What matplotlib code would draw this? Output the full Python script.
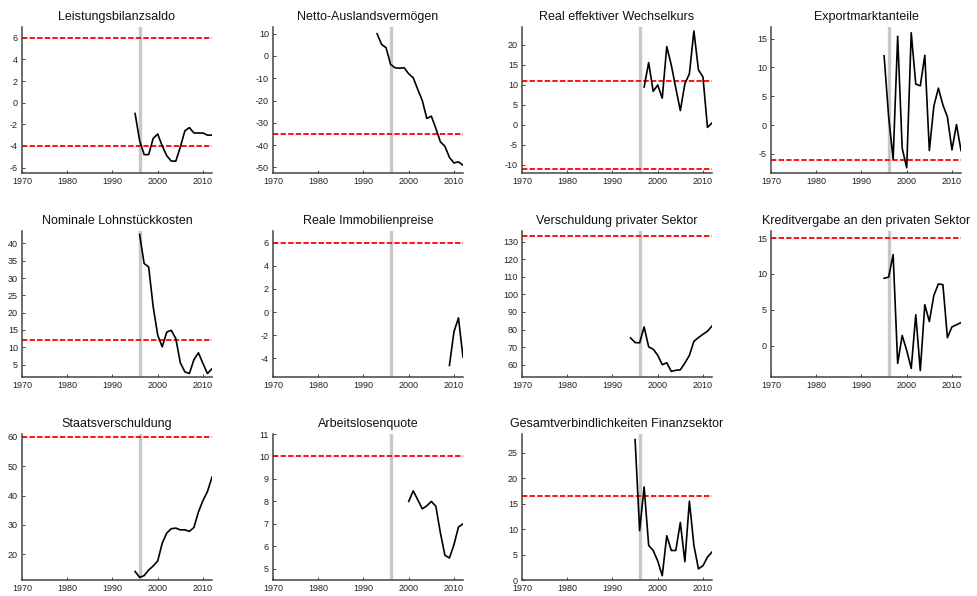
import matplotlib
matplotlib.use('Agg')
import matplotlib.pyplot as plt

plt.rcParams['font.family'] = ['Liberation Sans', 'DejaVu Sans']
plt.rcParams['axes.unicode_minus'] = False

titles = [
    'Leistungsbilanzsaldo', 'Netto-Auslandsvermögen', 'Real effektiver Wechselkurs', 'Exportmarktanteile',
    'Nominale Lohnstückkosten', 'Reale Immobilienpreise', 'Verschuldung privater Sektor',
    'Kreditvergabe an den privaten Sektor',
    'Staatsverschuldung', 'Arbeitslosenquote', 'Gesamtverbindlichkeiten Finanzsektor',
]

start_years = [1995, 1993, 1997, 1995, 1996, 2009, 1994, 1995, 1995, 2000, 1995]

values = [
    [-1.0, -3.5, -4.8, -4.8, -3.3, -2.9, -4.0, -4.9, -5.4, -5.4, -4.1, -2.6, -2.3, -2.8, -2.8, -2.8, -3.0, -3.0],
    [10.0, 5.2, 3.7, -3.8, -5.3, -5.5, -5.3, -8.0, -9.8, -15.0, -20.0, -28.0, -27.0, -32.5, -38.5, -40.5,
     -45.5, -48.0, -47.5, -49.0],
    [9.5, 15.6, 8.4, 10.0, 6.7, 19.6, 15.0, 9.2, 3.6, 10.3, 12.8, 23.5, 13.8, 12.0, -0.6, 0.5],
    [12.0, 1.5, -5.9, 15.4, -4.0, -7.4, 16.0, 7.1, 6.8, 12.1, -4.4, 3.3, 6.4, 3.5, 1.4, -4.3, 0.1, -4.4],
    [42.6, 34.2, 33.2, 21.7, 13.5, 10.1, 14.4, 14.9, 12.5, 5.5, 2.9, 2.4, 6.4, 8.4, 5.3, 2.4, 3.8],
    [-4.6, -1.7, -0.5, -3.9],
    [75.2, 72.6, 72.4, 81.5, 70.1, 68.8, 65.4, 60.0, 61.1, 56.2, 56.8, 57.1, 60.9, 65.3, 73.3, 75.4, 77.3,
     79.0, 82.0],
    [9.4, 9.55, 12.7, -2.5, 1.4, -0.7, -3.2, 4.3, -3.5, 5.7, 3.35, 7.0, 8.6, 8.5, 1.1, 2.6, 2.9, 3.2],
    [14.1, 12.1, 12.7, 14.6, 16.0, 17.7, 23.8, 27.2, 28.7, 28.9, 28.3, 28.3, 27.8, 29.1, 34.4, 38.3, 41.4, 46.3],
    [8.0, 8.47, 8.07, 7.67, 7.8, 8.0, 7.78, 6.6, 5.6, 5.48, 6.07, 6.86, 7.0],
    [27.6, 9.7, 18.3, 6.8, 5.8, 3.75, 0.85, 8.7, 5.8, 5.8, 11.3, 3.6, 15.5, 6.8, 2.2, 2.8, 4.5, 5.5],
]

thresholds = [[6, -4], [-35], [11, -11], [-6], [12], [6], [133], [15], [60], [10], [16.5]]

y_limits = [(-6.5, 7), (-52.5, 13), (-12, 24.5), (-8.3, 17), (1.4, 43.6), (-5.6, 7), (53, 136),
            (-4.4, 16), (11.2, 61), (4.5, 11), (0, 28.7)]

y_ticks = [
    [-6, -4, -2, 0, 2, 4, 6], [-50, -40, -30, -20, -10, 0, 10], [-10, -5, 0, 5, 10, 15, 20],
    [-5, 0, 5, 10, 15], [5, 10, 15, 20, 25, 30, 35, 40], [-4, -2, 0, 2, 4, 6],
    [60, 70, 80, 90, 100, 110, 120, 130], [0, 5, 10, 15], [20, 30, 40, 50, 60],
    [5, 6, 7, 8, 9, 10, 11], [0, 5, 10, 15, 20, 25],
]

marker_year = 1996

W, H = 978, 596
col_left = [22, 273, 522, 771]
row_top = [27, 231, 434]
ax_w, ax_h = 190, 146

fig = plt.figure(figsize=(W / 100, H / 100), dpi=100)

for i, title in enumerate(titles):
    r, c = divmod(i, 4)
    ax = fig.add_axes([col_left[c] / W, 1 - (row_top[r] + ax_h) / H, ax_w / W, ax_h / H])
    years = list(range(start_years[i], start_years[i] + len(values[i])))
    ax.axvline(marker_year, color='#c8c8c8', lw=2.4, zorder=1)
    for t in thresholds[i]:
        ax.axhline(t, color='red', lw=1.3, ls=(0, (3, 1.2)), zorder=2)
    ax.plot(years, values[i], color='black', lw=1.2, zorder=3)
    ax.set_xlim(1970, 2012)
    ax.set_ylim(*y_limits[i])
    ax.set_xticks([1970, 1980, 1990, 2000, 2010])
    ax.set_yticks(y_ticks[i])
    ax.set_title(title, fontsize=9, pad=5, color='#111111')
    for side in ['top', 'right']:
        ax.spines[side].set_visible(False)
    for side in ['left', 'bottom']:
        ax.spines[side].set_color('#444444')
        ax.spines[side].set_linewidth(1.1)
    ax.tick_params(direction='in', length=2.5, width=0.7, labelsize=6.5, colors='#444444',
                   labelcolor='#222222', pad=3)

fig.savefig('out.png', dpi=100)
